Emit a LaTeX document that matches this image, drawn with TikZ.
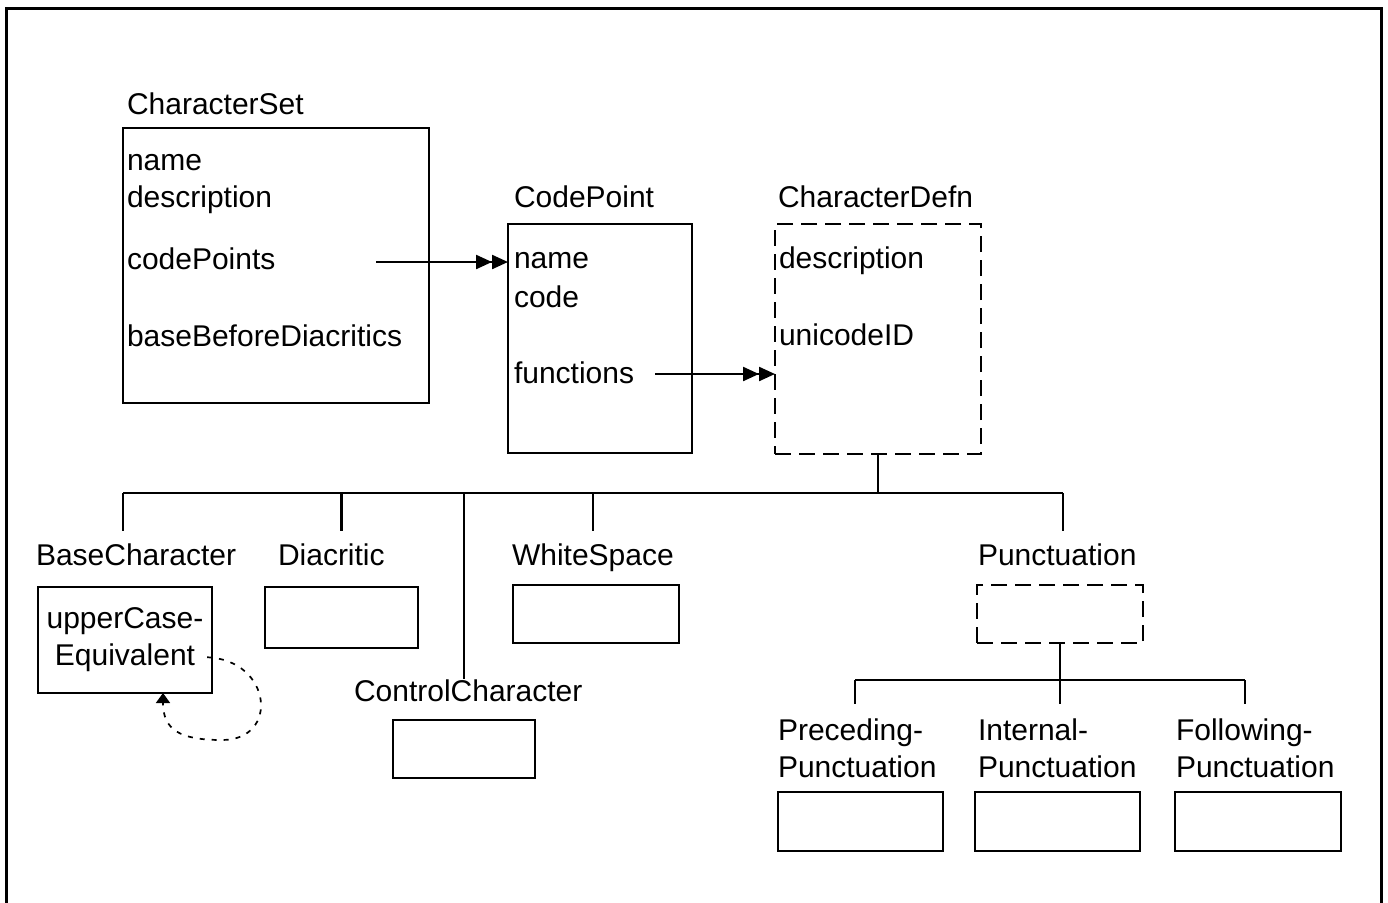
\documentclass[tikz,border=0pt]{standalone}
\usepackage{fontspec}
\setmainfont{Liberation Sans}
\usetikzlibrary{arrows.meta}

\begin{document}
\begin{tikzpicture}[x=0.5pt,y=-0.5pt,
  every node/.style={inner sep=0pt, outer sep=0pt, font=\fontsize{15}{18.5}\selectfont},
  box/.style 2 args={draw, line width=1.15pt, minimum width=#1*0.5pt, minimum height=#2*0.5pt},
  dbox/.style 2 args={box={#1}{#2}, dash pattern=on 8pt off 4pt},
  lab/.style={anchor=base west},
  sublab/.style={anchor=base west, align=left},
  wire/.style={line width=1.15pt},
  many/.style={wire, -{Triangle[length=8pt,width=7pt,sep=0pt]Triangle[length=8pt,width=7pt]}},
  selfref/.style={line width=0.85pt, dash pattern=on 2.5pt off 3.5pt, -{Triangle[length=5pt,width=7pt]}}]

\useasboundingbox (0,0) rectangle (1388,902);
\clip (0,0) rectangle (1388,902);

% frame (open at the bottom)
\draw[line width=1.5pt] (6,920) -- (6,8) -- (1381,8) -- (1381,920);

% CharacterSet
\node[lab] (csT) at (127,114) {CharacterSet};
\node[box={306}{275}] (cs) at (276,265.5) {};
\node[lab] (csA) at (127,170) {name};
\node[lab] (csB) at (127,207) {description};
\node[lab] (csC) at (127,269) {codePoints};
\node[lab] (csD) at (127,346) {baseBeforeDiacritics};

% CodePoint
\node[lab] (cpT) at (514,207) {CodePoint};
\node[box={184}{229}] (cp) at (600,338.5) {};
\node[lab] (cpA) at (514,268) {name};
\node[lab] (cpB) at (514,307) {code};
\node[lab] (cpC) at (514,383) {functions};

% CharacterDefn
\node[lab] (cdT) at (778,207) {CharacterDefn};
\node[dbox={206}{230}] (cd) at (878,339) {};
\node[lab] (cdA) at (779,268) {description};
\node[lab] (cdB) at (779,345) {unicodeID};

% multi-valued references
\coordinate (cpfrom) at (376,262);
\coordinate (fnfrom) at (655,374);
\draw[many] (cpfrom) -- (cpfrom -| cp.west);
\draw[many] (fnfrom) -- (fnfrom -| cd.west);

% subclasses of CharacterDefn
\node[lab] (bcT) at (36,565) {BaseCharacter};
\node[box={174}{106}] (bc) at (125,640) {};
\node[anchor=base] (bcA) at (125,628) {upperCase-};
\node[anchor=base, inner xsep=6pt] (bcB) at (125,665) {Equivalent};

\node[lab] (dT) at (278,565) {Diacritic};
\node[box={153}{61}] (d) at (341.5,617.5) {};

\node[lab] (wT) at (512,565) {WhiteSpace};
\node[box={166}{58}] (w) at (596,614) {};

\node[lab] (ccT) at (354,701) {ControlCharacter};
\node[box={142}{58}] (cc) at (464,749) {};

\node[lab] (pT) at (978,565) {Punctuation};
\node[dbox={166}{58}] (p) at (1060,614) {};

% subclasses of Punctuation
\node[sublab] (ppT) at (778,777) {Preceding-\\Punctuation};
\node[box={165}{59}] (pp) at (860.5,821.5) {};
\node[sublab] (ipT) at (978,777) {Internal-\\Punctuation};
\node[box={165}{59}] (ip) at (1057.5,821.5) {};
\node[sublab] (fpT) at (1176,777) {Following-\\Punctuation};
\node[box={166}{59}] (fp) at (1258,821.5) {};

% inheritance tree
\coordinate (bus) at (123,493);
\coordinate (busend) at (1063,493);
\draw[wire] (cd.south) -- (cd.south |- bus);
\draw[wire] (bus) -- (busend);
\draw[wire, shorten >=6pt] (bus) -- (bus |- bcT.north);
\draw[wire, shorten >=6pt] (bus -| d.north) -- (d.north |- dT.north);
\draw[wire, shorten >=6pt] (bus -| wT.north) -- (wT.north);
\draw[wire] (bus -| cc.north) -- (cc.north |- ccT.north);
\draw[wire, shorten >=6pt] (busend) -- (busend |- pT.north);

\coordinate (sbus) at (855,680);
\coordinate (sbusend) at (1245,680);
\draw[wire] (sbus) -- (sbusend);
\draw[wire, shorten >=7pt] (p.south) -- (p.south |- ipT.north);
\draw[wire, shorten >=7pt] (sbus) -- (sbus |- ppT.north);
\draw[wire, shorten >=7pt] (sbusend) -- (sbusend |- fpT.north);

% self reference of BaseCharacter
\draw[selfref] (bcB.east) .. controls (272,660) and (280,740) .. (222,740)
  .. controls (180,740) and (163,730) .. ([xshift=19pt]bc.south);
\end{tikzpicture}
\end{document}
